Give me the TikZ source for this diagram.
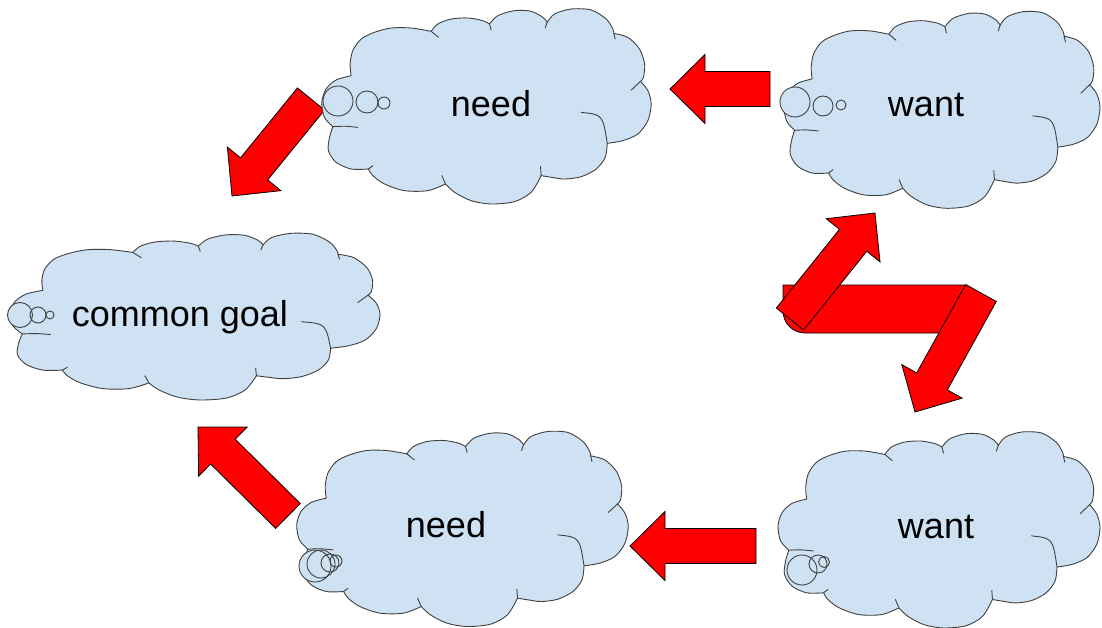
\documentclass[tikz,border=0pt]{standalone}
\usepackage{fontspec}
\setmainfont{Liberation Sans}
\usetikzlibrary{calc}
\usetikzlibrary{positioning}
\definecolor{cloudblue}{HTML}{CFE2F3}
\definecolor{arrowred}{HTML}{FF0000}
\tikzset{
  cloudbody/.style = {draw=black!75, fill=cloudblue, line width=0.9pt,
    line join=round},
  cloudline/.style = {draw=black!75, line width=0.9pt, line cap=round},
  wishtext/.style = {font=\fontsize{36}{40}\selectfont, inner sep=0pt},
  bubble/.style = {draw=black!75, line width=0.9pt},
  % cloud outline in a unit box, puff by puff
  wishcloud/.pic = {
    \path [cloudbody]
      plot [smooth] coordinates {(-0.822,-0.316) (-0.828,-0.436)
        (-0.812,-0.573) (-0.761,-0.692) (-0.680,-0.761) (-0.579,-0.805)
        (-0.457,-0.805) (-0.336,-0.771)}
      -- plot [smooth] coordinates {(-0.336,-0.771) (-0.296,-0.846)
        (-0.215,-0.897) (-0.113,-0.908) (-0.022,-0.880) (0.018,-0.846)}
      -- plot [smooth] coordinates {(0.018,-0.846) (0.069,-0.932)
        (0.170,-0.983) (0.271,-0.976) (0.342,-0.915) (0.368,-0.863)}
      -- plot [smooth] coordinates {(0.368,-0.863) (0.413,-0.949)
        (0.514,-1.0) (0.636,-0.990) (0.727,-0.897) (0.767,-0.795)
        (0.773,-0.750)}
      -- plot [smooth] coordinates {(0.773,-0.750) (0.858,-0.709)
        (0.929,-0.590) (0.960,-0.436) (0.953,-0.299) (0.935,-0.258)}
      -- plot [smooth] coordinates {(0.935,-0.258) (0.980,-0.162)
        (1.0,-0.026) (0.980,0.145) (0.919,0.282) (0.828,0.350)
        (0.733,0.378)}
      -- plot [smooth] coordinates {(0.733,0.378) (0.721,0.521)
        (0.666,0.641) (0.575,0.720) (0.474,0.744) (0.393,0.726)
        (0.332,0.709)}
      -- plot [smooth] coordinates {(0.332,0.709) (0.271,0.880)
        (0.170,0.976) (0.028,1.0) (-0.093,0.966) (-0.194,0.880)
        (-0.249,0.795)}
      -- plot [smooth] coordinates {(-0.249,0.795) (-0.356,0.863)
        (-0.498,0.863) (-0.619,0.795) (-0.690,0.709) (-0.717,0.641)}
      -- plot [smooth] coordinates {(-0.717,0.641) (-0.822,0.641)
        (-0.913,0.573) (-0.960,0.453) (-0.953,0.316) (-0.933,0.207)}
      -- plot [smooth] coordinates {(-0.933,0.207) (-0.984,0.111)
        (-1.0,-0.043) (-0.974,-0.179) (-0.913,-0.272) (-0.822,-0.316)}
      -- cycle;
    \draw [cloudline] (-0.336,-0.771) -- (-0.291,-0.709);
    \draw [cloudline] (0.018,-0.846) -- (0.028,-0.785);
    \draw [cloudline] (0.368,-0.863) -- (0.356,-0.805);
    \draw [cloudline] (0.773,-0.750) -- (0.781,-0.692);
    \draw [cloudline] (0.935,-0.258) -- (0.879,-0.169);
    \draw [cloudline] (0.575,0.060) .. controls (0.706,0.084) .. (0.733,0.378);
    \draw [cloudline] (0.332,0.709) -- (0.328,0.617);
    \draw [cloudline] (-0.249,0.795) -- (-0.271,0.709);
    \draw [cloudline] (-0.717,0.641) -- (-0.690,0.607);
    \draw [cloudline] (-0.933,0.207) .. controls (-0.86,0.20) .. (-0.781,0.214);
  },
  redbody/.style = {draw=black, fill=arrowred, line width=0.8pt},
  redarrow/.style = {redbody, line join=miter,
    to path={
      -- ($(\tikztostart)!17.5pt!90:(\tikztotarget)$)
      -- ($(\tikztotarget)!39.13pt!-26.57:(\tikztostart)$)
      -- ($(\tikztotarget)!49.15pt!-44.59:(\tikztostart)$)
      -- (\tikztotarget)
      -- ($(\tikztotarget)!49.15pt!44.59:(\tikztostart)$)
      -- ($(\tikztotarget)!39.13pt!26.57:(\tikztostart)$)
      -- ($(\tikztostart)!17.5pt!-90:(\tikztotarget)$)
      -- cycle}}
}
\begin{document}
\begin{tikzpicture}[x=1pt, y=-1pt]
  \useasboundingbox (0,0) rectangle (1102,628);

  % ends of the arrows
  \coordinate (a1s) at (770,89);  \coordinate (a1e) at (670,89);
  \coordinate (a2s) at (311,99);  \coordinate (a2e) at (232,196);
  \coordinate (a3s) at (756,546); \coordinate (a3e) at (630,546);
  \coordinate (a4s) at (288,516); \coordinate (a4e) at (198,427);
  \coordinate (a5s) at (790,319); \coordinate (a5e) at (875,213);
  \coordinate (a6s) at (981,293); \coordinate (a6e) at (915,412);

  \draw [redarrow] (a1s) to (a1e);
  \draw [redarrow] (a2s) to (a2e);
  \draw [redarrow] (a3s) to (a3e);
  \draw [redarrow] (a4s) to (a4e);

  % the bent arrow between the two wants
  \draw [redbody] (965,285) -- (783,285) [rounded corners=22pt]
    -- (783,333) -- (965,333) [sharp corners] -- cycle;
  \draw [redarrow] (a5s) to (a5e);
  \draw [redarrow] (a6s) to (a6e);

  % clouds
  \coordinate (needtop) at (486.5,106.5);
  \coordinate (wanttop) at (942,110);
  \coordinate (goal) at (195,316.7);
  \coordinate (needbot) at (462.5,529);
  \coordinate (wantbot) at (939,530);
  \pic [xscale=164.7, yscale=97.5] at (needtop) {wishcloud};
  \pic [xscale=158, yscale=98.3] at (wanttop) {wishcloud};
  \pic [xscale=185, yscale=83.3] at (goal) {wishcloud};
  \pic [xscale=165.8, yscale=97.5] at (needbot) {wishcloud};
  \pic [xscale=161, yscale=98] at (wantbot) {wishcloud};

  % thought bubbles
  \foreach \x/\y/\r in {338/101/15, 367/102/11, 384/103/6,
      795/102/15, 823/106/10, 841/105/5,
      20/315/12.5, 38/315/8, 50/315/4,
      315/566/16, 321/564/14, 330/563/9, 336/561/6,
      802/570/15, 818/564/9, 824/562/5.5}
    \fill [cloudblue] (\x,\y) circle [radius=\r];
  \foreach \x/\y/\r in {338/101/15, 367/102/11, 384/103/6,
      795/102/15, 823/106/10, 841/105/5,
      20/315/12.5, 38/315/8, 50/315/4,
      315/566/16, 321/564/14, 330/563/9, 336/561/6,
      802/570/15, 818/564/9, 824/562/5.5}
    \draw [bubble] (\x,\y) circle [radius=\r];

  % texts
  \node (needtoptext) [wishtext] at (491,104) {need};
  \node (wanttoptext) [wishtext] at (926,105) {want};
  \node (goaltext) [wishtext] at (180,317) {common goal};
  \node (needbottext) [wishtext] at (446,525) {need};
  \node (wantbottext) [wishtext] at (936,527) {want};
\end{tikzpicture}
\end{document}
